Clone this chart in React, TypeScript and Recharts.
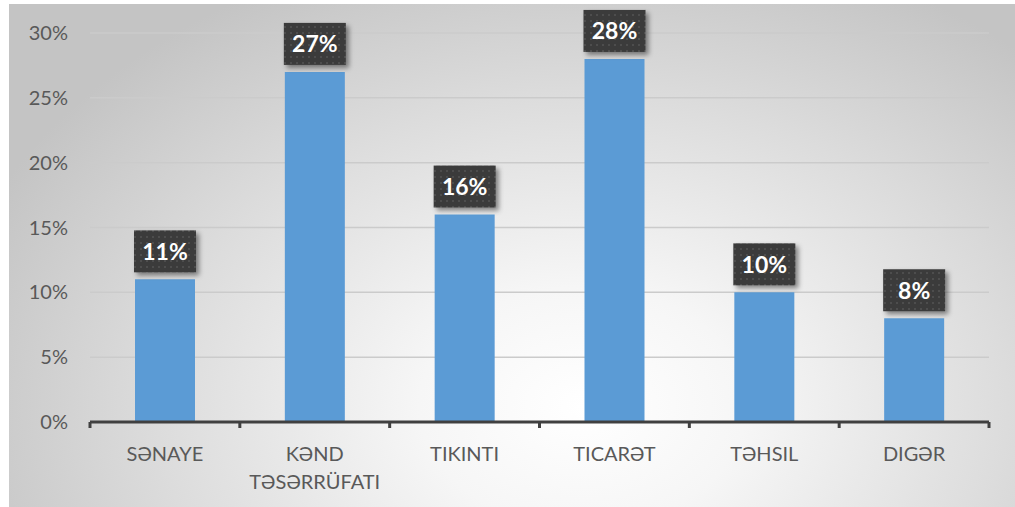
import React from "react";
import {
  BarChart,
  Bar,
  XAxis,
  YAxis,
  CartesianGrid,
  LabelList,
} from "recharts";

const CATEGORIES = ["SƏNAYE", "KƏND TƏSƏRRÜFATI", "TIKINTI", "TICARƏT", "TƏHSIL", "DIGƏR"];
const SHARES = [11, 27, 16, 28, 10, 8];
const Y_TICKS = [0, 5, 10, 15, 20, 25, 30];

const W = 1015;
const H = 507;
const MARGIN = { top: 33, right: 26, bottom: 25, left: 0 };
const Y_AXIS_W = 90;
const BAND = (W - MARGIN.left - MARGIN.right - Y_AXIS_W) / CATEGORIES.length;

const FONT = "Lato, 'Open Sans', sans-serif";
const AXIS_DARK = "#404040";

const chartData = CATEGORIES.map((name, i) => ({ name, value: SHARES[i] }));

// category labels sit under the band, with tick marks on band boundaries
const CategoryTick = (props: any) => {
  const { x, y, payload, index } = props;
  const lines = String(payload.value).split(" ");
  return (
    <g>
      <line x1={x - BAND / 2} y1={y} x2={x - BAND / 2} y2={y + 6} stroke={AXIS_DARK} strokeWidth={3} />
      {index === CATEGORIES.length - 1 && (
        <line x1={x + BAND / 2} y1={y} x2={x + BAND / 2} y2={y + 6} stroke={AXIS_DARK} strokeWidth={3} />
      )}
      {lines.map((ln, i) => (
        <text
          key={i}
          x={x}
          y={y + 39 + i * 28}
          textAnchor="middle"
          fill="#595959"
          fontSize={20}
          fontFamily={FONT}
        >
          {ln}
        </text>
      ))}
    </g>
  );
};

const ValueBadge = (props: any) => {
  const { x, y, width, value } = props;
  const cx = x + width / 2;
  const bw = 62;
  const bh = 42;
  const top = y - 7 - bh;
  return (
    <g>
      <rect x={cx - bw / 2} y={top} width={bw} height={bh} fill="url(#dots)" filter="url(#badgeShadow)" />
      <text
        x={cx}
        y={top + bh / 2 + 8.5}
        textAnchor="middle"
        fill="#ffffff"
        fontSize={23}
        fontWeight={700}
        fontFamily={FONT}
      >
        {`${value}%`}
      </text>
    </g>
  );
};

export default function App() {
  return (
    <div style={{ position: "absolute", left: 0, top: 0, width: W, height: H, background: "#fff" }}>
      <div
        style={{
          position: "absolute",
          left: 9,
          top: 4,
          width: W - 9,
          height: H - 4,
          background:
            "radial-gradient(ellipse 65% 95% at 57% 80%, #ffffff 0%, #f6f6f6 25%, #dcdcdc 65%, #c4c4c4 100%)",
        }}
      />
      <div style={{ position: "absolute", left: 0, top: 0 }}>
        <BarChart width={W} height={H} data={chartData} margin={MARGIN} barSize={60}>
          <defs>
            <pattern id="dots" width="6" height="6" patternUnits="userSpaceOnUse">
              <rect width="6" height="6" fill="#3a3a3a" />
              <circle cx="3" cy="3" r="0.9" fill="#575757" />
            </pattern>
            <filter id="badgeShadow" x="-20%" y="-20%" width="150%" height="150%">
              <feDropShadow dx="3" dy="3" stdDeviation="2.5" floodColor="#000" floodOpacity="0.45" />
            </filter>
          </defs>
          <CartesianGrid vertical={false} stroke="#cbcbcb" strokeWidth={1.5} />
          <XAxis
            dataKey="name"
            axisLine={{ stroke: AXIS_DARK, strokeWidth: 3 }}
            tickLine={false}
            tickSize={0}
            tickMargin={0}
            height={60}
            interval={0}
            tick={<CategoryTick />}
          />
          <YAxis
            width={Y_AXIS_W}
            domain={[0, 30]}
            ticks={Y_TICKS}
            axisLine={false}
            tickLine={false}
            tickSize={0}
            tickMargin={22}
            tickFormatter={(v: number) => `${v}%`}
            tick={{ fill: "#595959", fontSize: 20, fontFamily: FONT }}
          />
          <Bar dataKey="value" fill="#5b9bd5" isAnimationActive={false}>
            <LabelList dataKey="value" content={<ValueBadge />} />
          </Bar>
        </BarChart>
      </div>
    </div>
  );
}
